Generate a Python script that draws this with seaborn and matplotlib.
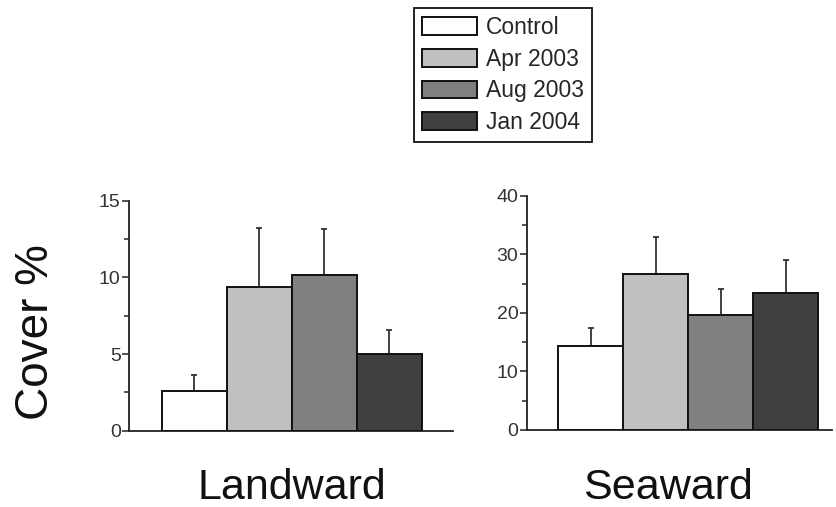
import numpy as np
import pandas as pd
import matplotlib
matplotlib.use("Agg")
import matplotlib.pyplot as plt
import seaborn as sns
from matplotlib.ticker import MultipleLocator
from matplotlib.container import BarContainer

treatments = ["Control", "Apr 2003", "Aug 2003", "Jan 2004"]
colors = ["#ffffff", "#c0c0c0", "#808080", "#404040"]

landward_mean = [2.6, 9.35, 10.15, 5.0]
landward_se = [1.05, 3.9, 3.0, 1.6]
seaward_mean = [14.3, 26.7, 19.7, 23.4]
seaward_se = [3.1, 6.3, 4.4, 5.6]

sns.set_style("white")
plt.rcParams["font.family"] = ["Liberation Sans", "DejaVu Sans"]

W, H = 837, 507
fig = plt.figure(figsize=(W / 100, H / 100), dpi=100)


def px_axes(x0, x1, ybot, ytop):
    return fig.add_axes([x0 / W, (H - ybot) / H, (x1 - x0) / W, (ybot - ytop) / H])


def panel(ax, means, se, ymax, major, minor, xlim):
    df = pd.DataFrame({"treatment": treatments, "cover": means})
    sns.barplot(data=df, x="treatment", y="cover", hue="treatment",
                palette=colors, hue_order=treatments, order=treatments,
                width=1.0, dodge=False, edgecolor="#111111", linewidth=1.4,
                legend=False, ax=ax, zorder=3)
    pos = np.arange(len(treatments))
    ax.errorbar(pos, means, yerr=[np.zeros(len(se)), se], fmt="none",
                ecolor="#333333", elinewidth=1.3, capsize=2.0, capthick=1.3,
                zorder=2)
    ax.set_ylim(0, ymax)
    ax.set_xlim(*xlim)
    ax.yaxis.set_major_locator(MultipleLocator(major))
    ax.yaxis.set_minor_locator(MultipleLocator(minor))
    ax.tick_params(axis="y", which="major", direction="out", length=5,
                   width=1.1, color="#222222", labelsize=14,
                   labelcolor="#333333", pad=1, left=True)
    ax.tick_params(axis="y", which="minor", direction="out", length=3.5,
                   width=1.1, color="#222222", left=True)
    ax.tick_params(axis="x", bottom=False, labelbottom=False)
    ax.set_xlabel("")
    ax.set_ylabel("")
    for s in ["top", "right"]:
        ax.spines[s].set_visible(False)
    for s in ["left", "bottom"]:
        ax.spines[s].set_color("#222222")
        ax.spines[s].set_linewidth(1.3)
    ax.set_facecolor("none")


ax1 = px_axes(129, 453, 430.7, 200.7)
panel(ax1, landward_mean, landward_se, 15, 5, 2.5, (-1.003, 3.98))

ax2 = px_axes(526.7, 831.7, 430, 195.7)
panel(ax2, seaward_mean, seaward_se, 40, 10, 5, (-0.986, 3.706))

fig.text(36 / W, 1 - 332 / H, "Cover %", rotation=90, fontsize=33,
         ha="center", va="center", color="#111111")
fig.text(292 / W, 1 - 488 / H, "Landward", fontsize=31,
         ha="center", va="center", color="#111111")
fig.text(668 / W, 1 - 488 / H, "Seaward", fontsize=31,
         ha="center", va="center", color="#111111")

bars = [c for c in ax1.containers if isinstance(c, BarContainer)]
handles = []
for c in bars:
    handles.extend(c.patches)
leg = fig.legend(handles[:len(treatments)], treatments, loc="upper left",
                 bbox_to_anchor=(414 / W, 1 - 8 / H), fontsize=16.5,
                 handlelength=2.4, handleheight=0.8, handletextpad=0.4,
                 labelspacing=0.38, borderpad=0.35, borderaxespad=0,
                 frameon=True, fancybox=False, framealpha=1)
leg.get_frame().set_edgecolor("#111111")
leg.get_frame().set_linewidth(1.3)

fig.savefig("out.png", dpi=100)
